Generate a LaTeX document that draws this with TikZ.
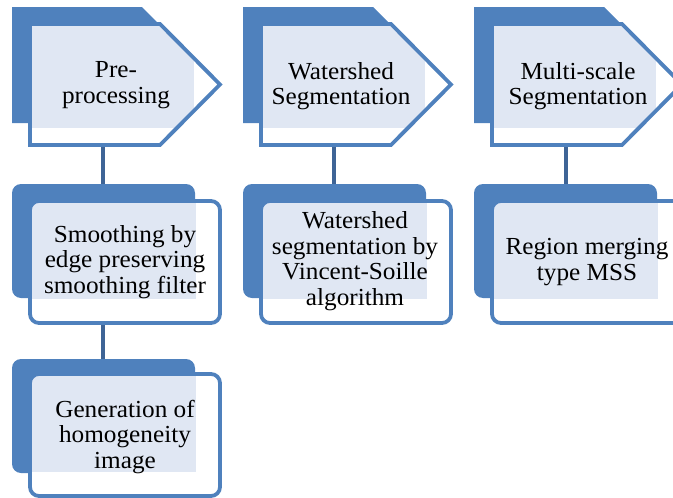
\documentclass[tikz,border=0pt]{standalone}
\usepackage{fontspec}
\setmainfont{Liberation Serif}[FakeStretch=1.03]
\definecolor{acc}{RGB}{79,129,189}
\definecolor{con}{RGB}{62,100,150}
\definecolor{pale}{RGB}{224,231,243}
\tikzset{
  backshape/.style={fill=acc},
  frontwhite/.style={fill=white},
  frontline/.style={draw=acc, line width=3.8pt, line join=miter},
  tint/.style={fill=pale},
  label/.style={font=\fontsize{24.5}{25.5}\selectfont, align=center, inner sep=0pt},
  link/.style={draw=con, line width=4.5pt},
  rbox/.style={rounded corners=9pt}
}
\newcommand{\chev}[1]{%
  \fill[backshape] (#1,7) -- (#1+130,7) -- (#1+188,65) -- (#1+130,123) -- (#1,123) -- cycle;
  \fill[frontwhite] (#1+18,24) -- (#1+148,24) -- (#1+208,84.5) -- (#1+148,145) -- (#1+18,145) -- cycle;
  \begin{scope}
    \clip (#1+18,24) -- (#1+148,24) -- (#1+208,84.5) -- (#1+148,145) -- (#1+18,145) -- cycle;
    \fill[tint] (#1+18,24) rectangle (#1+182,128);
  \end{scope}
  \draw[frontline] (#1+18,24) -- (#1+148,24) -- (#1+208,84.5) -- (#1+148,145) -- (#1+18,145) -- cycle;
}
\newcommand{\rbx}[3]{% x, top of back, top of front
  \fill[backshape, rbox] (#1,#2) rectangle (#1+183,#2+114);
  \fill[frontwhite, rbox] (#1+18,#3) rectangle (#1+208,#3+122);
  \begin{scope}
    \clip[rbox] (#1+18,#3) rectangle (#1+208,#3+122);
    \fill[tint] (#1+18,#3) rectangle (#1+184,#3+98);
  \end{scope}
  \draw[frontline, rbox] (#1+18,#3) rectangle (#1+208,#3+122);
}
\begin{document}
\begin{tikzpicture}[x=1pt, y=-1pt]
\useasboundingbox (0,0) rectangle (673,498);
\clip (0,0) rectangle (673,498);

% connector anchors
\coordinate (a1) at (103,145);
\coordinate (a2) at (103,186);
\coordinate (a3) at (103,323);
\coordinate (a4) at (103,361);
\coordinate (b1) at (334,145);
\coordinate (b2) at (334,186);
\coordinate (c1) at (566,145);
\coordinate (c2) at (566,186);
\draw[link] (a1) -- (a2);
\draw[link] (a3) -- (a4);
\draw[link] (b1) -- (b2);
\draw[link] (c1) -- (c2);

% column 1
\chev{12}
\rbx{12}{184}{201}
\rbx{12}{359}{374}
\node[label] (pre) at (116,85) {Pre-\\processing};
\node[label] (smooth) at (125,262) {Smoothing by\\edge preserving\\smoothing filter};
\node[label] (gen) at (125,437) {Generation of\\homogeneity\\image};

% column 2
\chev{243}
\rbx{243}{184}{201}
\node[label] (ws) at (341,86) {Watershed\\Segmentation};
\node[label] (vs) at (355,261) {Watershed\\segmentation by\\Vincent-Soille\\algorithm};

% column 3
\chev{474}
\rbx{474}{184}{201}
\node[label] (ms) at (578,86) {Multi-scale\\Segmentation};
\node[label] (rm) at (587,262) {Region merging\\type MSS};
\end{tikzpicture}
\end{document}
